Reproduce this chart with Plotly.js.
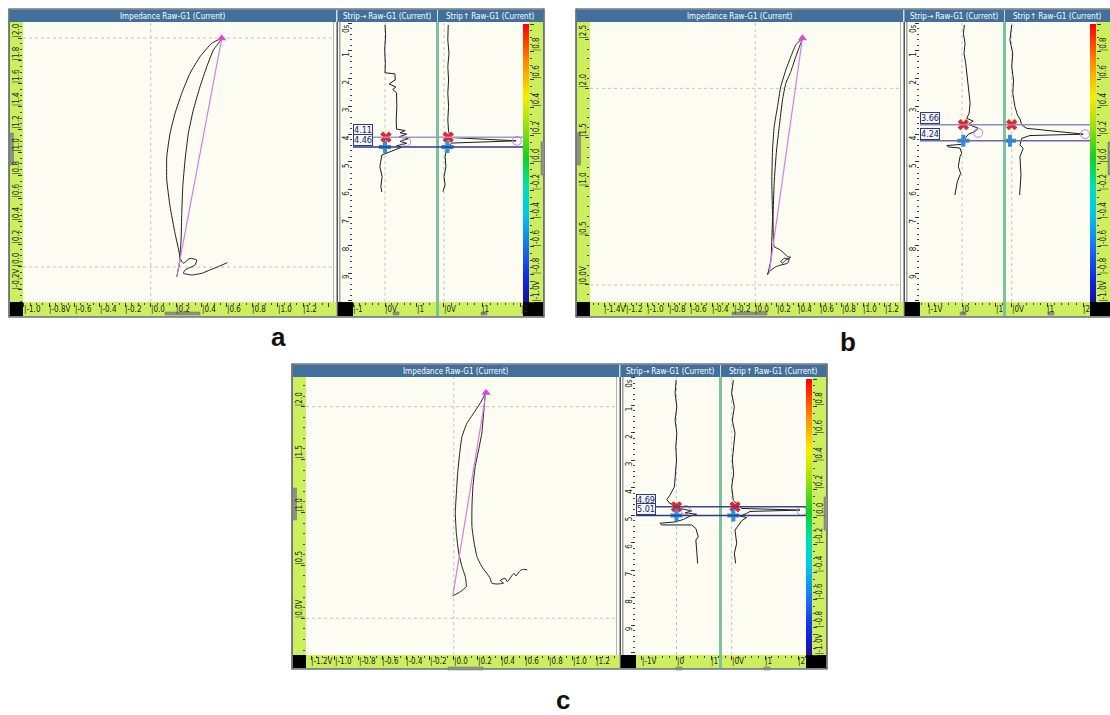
<!DOCTYPE html>
<html><head><meta charset="utf-8">
<script src="https://cdn.plot.ly/plotly-3.0.1.min.js"></script>
<style>html,body{margin:0;padding:0;background:#fff;}#chart{width:1110px;height:715px;}</style>
</head><body><div id="chart"></div>
<script>
// ---------------- DATA ----------------
// Panel a - impedance plane (X in V, Y in V)
const aImpX = [0.205,0.231,0.191,0.152,0.126,0.126,0.152,0.191,0.244,0.309,0.388,0.480,0.559,0.493,0.441,0.388,0.335,0.296,0.270,0.252,0.244,0.239,0.231,0.257,0.309,0.362,0.349,0.270,0.257,0.323,0.402,0.467,0.532,0.603];
const aImpY = [-0.085,0.076,0.294,0.527,0.760,0.963,1.168,1.342,1.517,1.692,1.837,1.954,1.997,1.895,1.749,1.575,1.371,1.168,0.934,0.701,0.469,0.236,0.076,0.032,0.076,0.061,0.017,-0.026,-0.055,-0.070,-0.055,-0.026,0.003,0.038];
const aMagX = [0.205,0.559];
const aMagY = [-0.085,1.997];
// Panel a - strip charts (value vs time)
const aHx = [0.00,0.02,-0.01,0.01,0.00,0.31,0.32,0.13,0.34,0.24,0.36,0.37,0.35,0.36,0.63,0.47,0.68,0.45,0.73,0.47,0.68,0.36,0.52,0.26,0.05,-0.10,-0.16,-0.09,-0.13,-0.10];
const aHy = [0.07,0.42,0.97,1.45,1.79,1.83,2.05,2.19,2.31,2.39,2.51,3.01,3.49,3.82,3.87,3.95,4.00,4.09,4.16,4.26,4.33,4.42,4.47,4.59,4.66,4.75,5.17,5.53,5.89,6.08];
const aVx = [0.11,0.10,0.13,0.10,0.12,0.10,0.12,0.10,0.12,0.17,1.88,0.20,0.07,0.03,0.05,0.00,0.03,-0.03];
const aVy = [0.07,0.61,1.09,1.57,2.05,2.53,3.01,3.49,3.91,4.12,4.24,4.32,4.51,4.81,5.17,5.53,5.83,6.07];
const aCursors = [4.11,4.46];
const aCursorHx = [0.03,0.00];
const aCursorVx = [0.11,0.09];
const aPeakH = [0.66,4.27];
const aPeakV = [1.90,4.24];

// Panel b
const bImpX = [0.114,0.145,0.153,0.160,0.153,0.160,0.175,0.206,0.236,0.283,0.329,0.375,0.437,0.421,0.375,0.329,0.283,0.252,0.222,0.197,0.175,0.165,0.168,0.175,0.222,0.268,0.298,0.329,0.283,0.252,0.236,0.268,0.314,0.298,0.236,0.190,0.129,0.114];
const bImpY = [0.102,0.254,0.458,0.695,1.035,1.373,1.610,1.814,2.017,2.187,2.322,2.441,2.510,2.459,2.322,2.170,2.052,1.882,1.610,1.373,1.035,0.695,0.450,0.390,0.363,0.322,0.288,0.282,0.254,0.221,0.237,0.272,0.261,0.221,0.203,0.186,0.135,0.112];
const bMagX = [0.129,0.437];
const bMagY = [0.119,2.510];
const bHx = [0.07,0.04,0.09,0.06,0.11,0.14,0.17,0.21,0.24,0.21,0.14,0.33,0.19,0.48,0.38,0.19,0.09,0.04,-0.45,-0.40,-0.06,-0.01,-0.06,-0.11,-0.04,-0.14,-0.18,-0.21];
const bHy = [0.07,0.37,0.73,1.09,1.45,1.81,2.17,2.53,2.89,3.25,3.43,3.53,3.65,3.79,3.91,4.00,4.15,4.36,4.41,4.46,4.50,4.69,4.81,5.17,5.41,5.71,6.01,6.19];
const bVx = [0.00,-0.05,0.03,0.00,0.05,0.03,0.09,0.16,0.23,0.28,0.42,2.00,0.51,0.28,0.23,0.32,0.23,0.26,0.22];
const bVy = [0.07,0.61,1.09,1.57,2.05,2.53,3.01,3.31,3.45,3.67,3.79,4.00,4.05,4.15,4.39,4.51,4.81,5.47,6.19];
const bCursors = [3.66,4.24];
const bCursorHx = [0.04,0.04];
const bCursorVx = [0.00,-0.05];
const bPeakH = [0.48,3.95];
const bPeakV = [2.05,4.00];

// Panel c
const cImpX = [-0.008,0.055,0.105,0.097,0.069,0.042,0.022,0.013,0.022,0.033,0.050,0.069,0.111,0.167,0.222,0.272,0.264,0.251,0.236,0.209,0.180,0.161,0.153,0.153,0.172,0.195,0.236,0.278,0.306,0.320,0.362,0.418,0.390,0.432,0.451,0.487,0.507,0.523,0.557,0.585,0.618];
const cImpY = [0.211,0.251,0.299,0.393,0.488,0.614,0.803,0.992,1.181,1.371,1.560,1.716,1.843,1.938,2.032,2.132,2.094,1.938,1.749,1.591,1.433,1.244,1.055,0.866,0.709,0.582,0.488,0.425,0.378,0.331,0.324,0.331,0.356,0.378,0.346,0.400,0.425,0.400,0.450,0.463,0.457];
const cMagX = [-0.008,0.272];
const cMagY = [0.211,2.132];
const cHx = [-0.01,-0.04,0.01,-0.04,0.01,-0.02,0.00,-0.04,-0.06,-0.19,-0.28,-0.21,0.10,0.44,0.25,0.58,0.39,0.20,-0.04,-0.48,-0.43,0.44,0.56,0.63,0.56,0.59,0.61];
const cHy = [0.08,0.57,1.05,1.54,2.02,2.51,2.99,3.48,3.96,4.27,4.42,4.55,4.75,4.84,4.91,4.96,5.03,5.15,5.24,5.29,5.35,5.35,5.48,5.78,5.90,6.39,6.75];
const cVx = [0.05,0.00,0.08,0.02,0.10,0.05,0.02,0.06,0.00,0.05,0.30,2.05,0.55,0.45,0.25,0.45,0.30,0.10,0.15,0.08,0.12];
const cVy = [0.08,0.57,1.05,1.54,2.02,2.51,2.99,3.48,3.96,4.45,4.75,4.81,4.86,4.93,5.03,5.08,5.20,5.54,6.02,6.39,6.75];
const cCursors = [4.69,5.01];
const cCursorHx = [0.00,0.00];
const cCursorVx = [0.10,0.05];
const cPeakH = [0.27,4.81];
const cPeakV = [2.10,4.84];

// Tick labels
const aImpXTickVals = [-1.0,-0.8,-0.6,-0.4,-0.2,0.0,0.2,0.4,0.6,0.8,1.0,1.2];
const aImpXTickText = ['-1.0','-0.8V','-0.6','-0.4','-0.2','0.0','0.2','0.4','0.6','0.8','1.0','1.2'];
const aImpYTickVals = [-0.2,0.0,0.2,0.4,0.6,0.8,1.0,1.2,1.4,1.6,1.8,2.0];
const aImpYTickText = ['-0.2V','0.0','0.2','0.4','0.6','0.8','1.0','1.2','1.4','1.6','1.8','2.0'];
const bImpXTickVals = [-1.4,-1.2,-1.0,-0.8,-0.6,-0.4,-0.2,0.0,0.2,0.4,0.6,0.8,1.0,1.2];
const bImpXTickText = ['-1.4V','-1.2','-1.0','-0.8','-0.6','-0.4','-0.2','0.0','0.2','0.4','0.6','0.8','1.0','1.2'];
const bImpYTickVals = [0.0,0.5,1.0,1.5,2.0,2.5];
const bImpYTickText = ['0.0V','0.5','1.0','1.5','2.0','2.5'];
const cImpXTickVals = [-1.2,-1.0,-0.8,-0.6,-0.4,-0.2,0.0,0.2,0.4,0.6,0.8,1.0,1.2];
const cImpXTickText = ['-1.2V','-1.0','-0.8','-0.6','-0.4','-0.2','0.0','0.2','0.4','0.6','0.8','1.0','1.2'];
const cImpYTickVals = [0.0,0.5,1.0,1.5,2.0];
const cImpYTickText = ['0.0V','0.5','1.0','1.5','2.0'];
const timeTickVals = [0,1,2,3,4,5,6,7,8,9];
const timeTickText = ['0s','1','2','3','4','5','6','7','8','9'];
const hTickVals = [-1,0,1];
const aHTickText = ['-1','0V','1'];
const bcHTickText = ['-1V','0','1'];
const vTickVals = [0,1,2];
const vTickText = ['0V','1','2'];
const cbVals = [-1.0,-0.8,-0.6,-0.4,-0.2,0.0,0.2,0.4,0.6,0.8,1.0];
const cbTickVals = [-1.0,-0.8,-0.6,-0.4,-0.2,0.0,0.2,0.4,0.6,0.8];
const cbTickText = ['-1.0V','-0.8','-0.6','-0.4','-0.2','0.0','0.2','0.4','0.6','0.8'];
const titles = ['Impedance Raw-G1 (Current)','Strip\u2192 Raw-G1 (Current)','Strip\u2191 Raw-G1 (Current)'];
const panelLetters = ['a','b','c'];

// ---------------- LAYOUT / STYLE ----------------
const W = 1110, H = 715;
const FONT = 'DejaVu Sans Condensed, Liberation Sans Narrow, Liberation Sans, Arial, sans-serif';
const GREEN = '#cdef5e', CREAM = '#fcfcf3', TBLUE = '#41709c', SEPG = '#7cc29c';

const panels = [
  {x0:9, y0:9, pb:293, sb:307, letterPos:[278,337],
   impX:aImpX, impY:aImpY, magX:aMagX, magY:aMagY,
   impXR:[-1.006,1.435], impYR:[-0.306,2.14], impYD:0.2, impYM:0.05,
   ixv:aImpXTickVals, ixt:aImpXTickText, iyv:aImpYTickVals, iyt:aImpYTickText,
   hx:aHx, hy:aHy, vx:aVx, vy:aVy, hR:[-1.0,1.594], vR:[-0.13,2.06], tR:[10.04,-0.036], hTxt:aHTickText,
   cur:aCursors, curH:aCursorHx, curV:aCursorVx, pkH:aPeakH, pkV:aPeakV, curCol:['#9a9ad2','#2c3a8a']},
  {x0:576, y0:9, pb:293, sb:307, letterPos:[848,342],
   impX:bImpX, impY:bImpY, magX:bMagX, magY:bMagY,
   impXR:[-1.53,1.34], impYR:[-0.173,2.675], impYD:0.5, impYM:0.1,
   ixv:bImpXTickVals, ixt:bImpXTickText, iyv:bImpYTickVals, iyt:bImpYTickText,
   hx:bHx, hy:bHy, vx:bVx, vy:bVy, hR:[-1.243,1.213], vR:[-0.16,2.19], tR:[10.04,-0.036], hTxt:bcHTickText,
   cur:bCursors, curH:bCursorHx, curV:bCursorVx, pkH:bPeakH, pkV:bPeakV, curCol:['#8c8cb8','#6a6aa8']},
  {x0:292, y0:364, pb:291, sb:304, letterPos:[563,700],
   impX:cImpX, impY:cImpY, magX:cMagX, magY:cMagY,
   impXR:[-1.242,1.364], impYR:[-0.347,2.28], impYD:0.5, impYM:0.1,
   ixv:cImpXTickVals, ixt:cImpXTickText, iyv:cImpYTickVals, iyt:cImpYTickText,
   hx:cHx, hy:cHy, vx:cVx, vy:cVy, hR:[-1.17,1.228], vR:[-0.29,2.23], tR:[10.08,-0.03], hTxt:bcHTickText,
   cur:cCursors, curH:cCursorHx, curV:cCursorVx, pkH:cPeakH, pkV:cPeakV, curCol:['#3a4690','#2c3a8a']}
];

const layout = {width:W, height:H, margin:{l:0,r:0,t:0,b:0}, paper_bgcolor:'#ffffff',
  plot_bgcolor:'rgba(0,0,0,0)', showlegend:false, shapes:[], annotations:[]};
const traces = [];
const baseAx = {showgrid:false, zeroline:false, showline:false, showticklabels:false, fixedrange:true, ticks:''};
let axN = 0;
function newAxes(xc, yc){
  axN++;
  const s = axN === 1 ? '' : String(axN);
  layout['xaxis'+s] = Object.assign({}, baseAx, {anchor:'y'+s}, xc);
  layout['yaxis'+s] = Object.assign({}, baseAx, {anchor:'x'+s}, yc);
  return {x:'x'+s, y:'y'+s};
}
const PX = (p,r) => (p.x0 + r)/W;
const PY = (p,r) => 1 - (p.y0 + r)/H;
function rect(p, x0, y0, x1, y1, fill, lineCol, lw){
  layout.shapes.push({type:'rect', xref:'paper', yref:'paper', layer:'below',
    x0:PX(p,x0), x1:PX(p,x1), y0:PY(p,y1), y1:PY(p,y0), fillcolor:fill,
    line:{color:lineCol||fill, width:lineCol?(lw||1):0}});
}
function txt(o){ layout.annotations.push(Object.assign({showarrow:false, xanchor:'center', yanchor:'middle', font:{family:FONT, size:8, color:'#222'}}, o)); }
const tickStyle = {ticks:'outside', ticklen:4, tickwidth:1, tickcolor:'#333', tick0:0};

panels.forEach((p, pi) => {
  const pb = p.pb, sb = p.sb;
  // frame & backgrounds
  rect(p, 0, 0, 535, sb+1, '#d5dad6', '#2a343e', 1.2);
  rect(p, 1, 1, 327, 13, TBLUE);
  rect(p, 328.5, 1, 428, 13, TBLUE);
  rect(p, 429, 1, 534, 13, TBLUE);
  rect(p, 1, 13, 14, pb, GREEN);
  rect(p, 14, 13, 328, pb, CREAM);
  rect(p, 324, 13, 324.8, pb, '#9aa4a4');
  rect(p, 327.5, 13, 329, sb, '#4a5560');
  rect(p, 14, pb, 327.5, sb, GREEN);
  rect(p, 1, pb, 14, sb, '#000000');
  rect(p, 329, 13, 344, pb, CREAM);
  rect(p, 330.5, 13, 331.3, pb, '#555555');
  rect(p, 344, 13, 427, pb, CREAM);
  rect(p, 427, 13, 430, sb, SEPG);
  rect(p, 430, 13, 514, pb, CREAM);
  rect(p, 514, 13, 520, pb, '#ffffff');
  rect(p, 520, 13, 534, pb, GREEN);
  rect(p, 329, pb, 344, sb, '#000000');
  rect(p, 344, pb, 427, sb, GREEN);
  rect(p, 430, pb, 514, sb, GREEN);
  rect(p, 514, pb, 534, sb, '#000000');
  // handles
  [[0.5,124,4.5,156],[532,133,535.5,166],[156,303,191,306],[384,303,390,306],[472,303,478,306]].forEach(h=>{
    layout.shapes.push({type:'rect', xref:'paper', yref:'paper', layer:'below',
      x0:PX(p,h[0]), x1:PX(p,h[2]), y0:PY(p,h[3]), y1:PY(p,h[1]), fillcolor:'#8d9486', line:{color:'#6b7066', width:0.5}});
  });

  // ---- impedance plane ----
  const imp = newAxes(
    Object.assign({domain:[PX(p,14),PX(p,324)], range:p.impXR, dtick:0.2,
      minor:{ticks:'outside', dtick:0.05, ticklen:2, tickcolor:'#444'}}, tickStyle),
    Object.assign({domain:[PY(p,pb),PY(p,13)], range:p.impYR, dtick:p.impYD,
      minor:{ticks:'outside', dtick:p.impYM, ticklen:2, tickcolor:'#444'}}, tickStyle));
  const dot = {color:'#c4c4c4', width:1, dash:'dot'};
  layout.shapes.push({type:'line', xref:imp.x, yref:imp.y+' domain', x0:0, x1:0, y0:0, y1:1, line:dot, layer:'below'});
  [0, 2].forEach(v => layout.shapes.push({type:'line', xref:imp.x+' domain', yref:imp.y, x0:0, x1:1, y0:v, y1:v, line:dot, layer:'below'}));
  traces.push({type:'scatter', mode:'lines', x:p.impX, y:p.impY, xaxis:imp.x, yaxis:imp.y,
    line:{color:'#1e1e1e', width:1, shape:'spline', smoothing:0.4}, hoverinfo:'skip'});
  traces.push({type:'scatter', mode:'lines', x:p.magX, y:p.magY, xaxis:imp.x, yaxis:imp.y,
    line:{color:'#d47ee2', width:1.2}, hoverinfo:'skip'});
  traces.push({type:'scatter', mode:'markers', x:[p.magX[1]], y:[p.magY[1]], xaxis:imp.x, yaxis:imp.y,
    marker:{symbol:'triangle-up', size:8, color:'#e244e6'}, hoverinfo:'skip'});
  p.ixv.forEach((v,i) => txt({xref:imp.x, yref:'paper', x:v, y:PY(p,(pb+sb)/2), xanchor:'left', yanchor:'middle', xshift:-2, text:'|'+p.ixt[i]}));
  p.iyv.forEach((v,i) => txt({xref:'paper', yref:imp.y, x:PX(p,7.5), y:v, xanchor:'center', yanchor:'bottom', yshift:-2, textangle:-90, text:'|'+p.iyt[i]}));

  // ---- strip horizontal ----
  const sh = newAxes(
    Object.assign({domain:[PX(p,344),PX(p,427)], range:p.hR, dtick:1,
      minor:{ticks:'outside', dtick:0.2, ticklen:2, tickcolor:'#444'}}, tickStyle),
    Object.assign({domain:[PY(p,pb),PY(p,13)], range:p.tR, dtick:1,
      minor:{ticks:'outside', dtick:0.2, ticklen:2, tickcolor:'#444'}}, tickStyle));
  layout.shapes.push({type:'line', xref:sh.x, yref:sh.y+' domain', x0:0, x1:0, y0:0, y1:1, line:dot, layer:'below'});
  traces.push({type:'scatter', mode:'lines', x:p.hx, y:p.hy, xaxis:sh.x, yaxis:sh.y,
    line:{color:'#1e1e1e', width:1}, hoverinfo:'skip'});
  hTickVals.forEach((v,i) => txt({xref:sh.x, yref:'paper', x:v, y:PY(p,(pb+sb)/2), xanchor:'left', yanchor:'middle', xshift:-2, text:'|'+p.hTxt[i]}));
  timeTickVals.forEach((v,i) => txt({xref:'paper', yref:sh.y, x:PX(p,337.5), y:v, xanchor:'center', yanchor:'top', yshift:1, textangle:-90, text:timeTickText[i]}));

  // ---- strip vertical ----
  const sv = newAxes(
    Object.assign({domain:[PX(p,430),PX(p,514)], range:p.vR, dtick:1,
      minor:{ticks:'outside', dtick:0.2, ticklen:2, tickcolor:'#444'}}, tickStyle),
    {domain:[PY(p,pb),PY(p,13)], range:p.tR});
  layout.shapes.push({type:'line', xref:sv.x, yref:sv.y+' domain', x0:0, x1:0, y0:0, y1:1, line:dot, layer:'below'});
  traces.push({type:'scatter', mode:'lines', x:p.vx, y:p.vy, xaxis:sv.x, yaxis:sv.y,
    line:{color:'#1e1e1e', width:1}, hoverinfo:'skip'});
  vTickVals.forEach((v,i) => txt({xref:sv.x, yref:'paper', x:v, y:PY(p,(pb+sb)/2), xanchor:'left', yanchor:'middle', xshift:-2, text:'|'+vTickText[i]}));

  // cursors
  p.cur.forEach((v,i) => {
    layout.shapes.push({type:'line', xref:'paper', yref:sh.y, x0:PX(p,344), x1:PX(p,514), y0:v, y1:v,
      line:{color:p.curCol[i], width:1.5}, layer:'above'});
    txt({xref:'paper', yref:sh.y, x:PX(p,343.5), y:v, xanchor:'left', yanchor:'bottom', yshift:1,
      text:v.toFixed(2), bgcolor:'#f6f6fb', bordercolor:'#2c3a8a', borderwidth:1, borderpad:0,
      font:{family:FONT, size:9, color:'#1a2560'}});
  });
  const mk = (ax, xs, ys, sym, col, size, lw) => traces.push({type:'scatter', mode:'markers', x:xs, y:ys,
    xaxis:ax.x, yaxis:ax.y, marker:{symbol:sym, size:size, color:col, line:{color:col, width:lw}}, hoverinfo:'skip'});
  mk(sh, [p.pkH[0]], [p.pkH[1]], 'circle-open', '#c77fe0', 9, 1);
  mk(sv, [p.pkV[0]], [p.pkV[1]], 'circle-open', '#c77fe0', 9, 1);
  mk(sh, [p.curH[0]], [p.cur[0]], 'x', '#e3262b', 10, 0);
  mk(sv, [p.curV[0]], [p.cur[0]], 'x', '#e3262b', 10, 0);
  mk(sh, [p.curH[1]], [p.cur[1]], 'cross', '#2f8fe0', 10, 0);
  mk(sv, [p.curV[1]], [p.cur[1]], 'cross', '#2f8fe0', 10, 0);

  // ---- colour bar ----
  const cb = newAxes({domain:[PX(p,514),PX(p,520)], range:[-0.5,1.5]},
    Object.assign({domain:[PY(p,pb),PY(p,15)], range:[-1,1], side:'right', dtick:0.2,
      minor:{ticks:'outside', dtick:0.05, ticklen:2, tickcolor:'#444'}}, tickStyle));
  traces.push({type:'heatmap', x:[0,1], y:cbVals, z:cbVals.map(v=>[v,v]), xaxis:cb.x, yaxis:cb.y,
    zmin:-1, zmax:1, zsmooth:'best', showscale:false, hoverinfo:'skip',
    colorscale:[[0,'#1a0f9c'],[0.08,'#1024e6'],[0.2,'#1a70f2'],[0.32,'#00c8f0'],[0.42,'#00e0b0'],
      [0.52,'#12d024'],[0.64,'#a2e012'],[0.74,'#f4f000'],[0.86,'#ff9000'],[1,'#ff0000']]});
  cbTickVals.forEach((v,i) => txt({xref:'paper', yref:cb.y, x:PX(p,527.5), y:v, xanchor:'center', yanchor:'bottom', yshift:-2, textangle:-90, text:'|'+cbTickText[i]}));

  // titles
  txt({xref:'paper', yref:'paper', x:PX(p,164), y:PY(p,7), text:titles[0], font:{family:FONT, size:8, color:'#ffffff'}});
  txt({xref:'paper', yref:'paper', x:PX(p,378), y:PY(p,7), text:titles[1], font:{family:FONT, size:8, color:'#ffffff'}});
  txt({xref:'paper', yref:'paper', x:PX(p,481), y:PY(p,7), text:titles[2], font:{family:FONT, size:8, color:'#ffffff'}});

  // panel letter
  layout.annotations.push({xref:'paper', yref:'paper', x:p.letterPos[0]/W, y:1-p.letterPos[1]/H, showarrow:false,
    xanchor:'center', yanchor:'middle',
    text:'<b>'+panelLetters[pi]+'</b>', font:{family:'Liberation Sans, Arial, sans-serif', size:26, color:'#111'}});
});

Plotly.newPlot('chart', traces, layout, {staticPlot:true, displayModeBar:false});
</script></body></html>
